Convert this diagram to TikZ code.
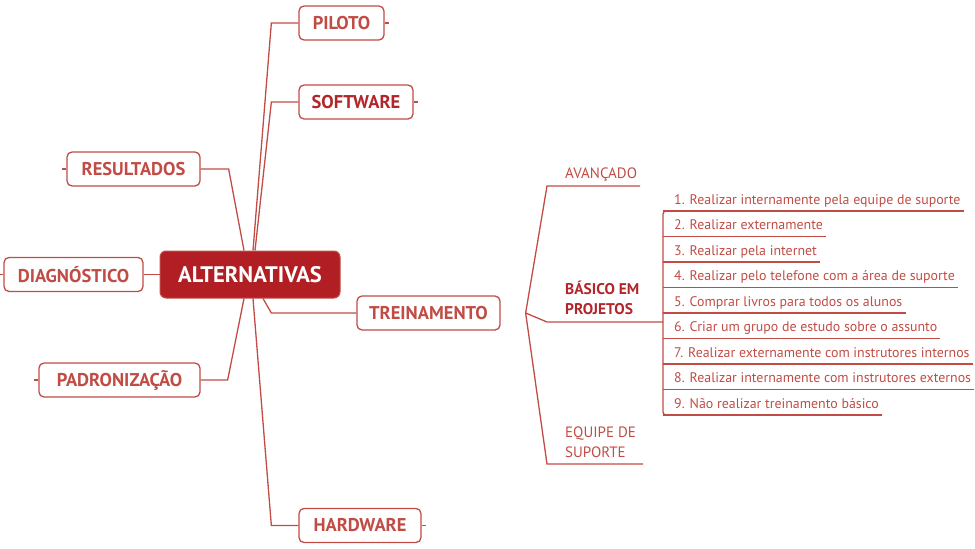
\documentclass[tikz,border=0pt]{standalone}
\usepackage{fontspec}
\setmainfont{PT Sans}
\usetikzlibrary{calc}

\definecolor{mapred}{HTML}{C14C45}
\definecolor{rootred}{HTML}{B11F24}
\definecolor{deepred}{HTML}{B2262B}

\begin{document}
\begin{tikzpicture}[x=1pt,y=-1pt,
	branch/.style={draw=mapred, line width=1.3pt},
	box/.style={draw=mapred, line width=1.3pt, rounded corners=5pt, fill=white, text=mapred, inner sep=0pt, minimum height=34pt, font=\fontsize{18.5}{20}\selectfont\bfseries},
	root/.style={draw=mapred, line width=1pt, rounded corners=6pt, fill=rootred, text=white, inner sep=0pt, minimum width=180pt, minimum height=47pt, font=\fontsize{22.5}{24}\selectfont\bfseries},
	topic/.style={text=mapred, anchor=base west, inner sep=0pt, align=left, font=\fontsize{15}{20}\selectfont},
	item/.style={text=mapred, anchor=base west, inner sep=0pt, font=\fontsize{13.9}{15}\selectfont},
]
\useasboundingbox (0,0) rectangle (975,549);

\node[root] (alt) at (250,274.5) {ALTERNATIVAS};

\node[box, minimum width=85pt] (piloto) at (341.5,23) {PILOTO};
\node[box, minimum width=114pt, text=deepred] (software) at (356,102) {SOFTWARE};
\node[box, minimum width=133pt] (resultados) at (133.5,169) {RESULTADOS};
\node[box, minimum width=139pt] (diag) at (73.5,274.5) {DIAGNÓSTICO};
\node[box, minimum width=161pt] (padr) at (119.5,380) {PADRONIZAÇÃO};
\node[box, minimum width=143pt] (trein) at (428.5,313) {TREINAMENTO};
\node[box, minimum width=122pt] (hard) at (360,525.5) {HARDWARE};

% ligacoes do no central
\draw[branch] (piloto.west) -- ++(-27,0) -- ($(alt.north)+(3,0)$);
\draw[branch] (software.west) -- ++(-27,0) -- ($(alt.north)+(5,0)$);
\draw[branch] (resultados.east) -- ++(28,0) -- ($(alt.north)+(-6,0)$);
\draw[branch] (diag.east) -- (alt.west);
\draw[branch] (padr.east) -- ++(27,0) -- ($(alt.south)+(-6,0)$);
\draw[branch] (hard.west) -- ++(-27,0) -- ($(alt.south)+(3,0)$);
\draw[branch] (trein.west) -- ++(-85,0) -- ($(alt.south)+(13,0)$);

% marcas de ramos recolhidos
\draw[branch] (piloto.east) -- ++(4,0);
\draw[branch] (software.east) -- ++(4,0);
\draw[branch] (hard.east) -- ++(4,0);
\draw[branch] (resultados.west) -- ++(-4,0);
\draw[branch] (diag.west) -- ++(-3,0);
\draw[branch] (padr.west) -- ++(-4,0);

% treinamento
\coordinate (fork) at ($(trein.east)+(25,0)$);
\node[topic] (avanc) at (565,178) {AVANÇADO};
\node[topic, text=deepred, font=\fontsize{15.5}{20}\selectfont\bfseries] (basico) at (565,314) {BÁSICO EM\\PROJETOS};
\node[topic] (equipe) at (565,457) {EQUIPE DE\\SUPORTE};

\coordinate (avL) at (547,186);
\coordinate (avR) at ($(avanc.base east)+(3,8)$);
\coordinate (bsL) at (547,322);
\coordinate (bar) at (663,322);
\coordinate (eqL) at (547,464);
\coordinate (eqR) at ($(equipe.south east)+(7,0)$);
\draw[branch] (fork) -- (avL) -- (avR);
\draw[branch] (fork) -- (bsL) -- (bar);
\draw[branch] (fork) -- (eqL) -- (eqL -| eqR);

\foreach \t [count=\n] in {
	{1. Realizar internamente pela equipe de suporte},
	{2. Realizar externamente},
	{3. Realizar pela internet},
	{4. Realizar pelo telefone com a área de suporte},
	{5. Comprar livros para todos os alunos},
	{6. Criar um grupo de estudo sobre o assunto},
	{7. Realizar externamente com instrutores internos},
	{8. Realizar internamente com instrutores externos},
	{9. Não realizar treinamento básico}}{
	\pgfmathsetmacro\y{178.5+25.5*\n}
	\node[item] (i\n) at (674,\y) {\t};
	\coordinate (e\n) at ($(i\n.base east)+(3,7)$);
	\draw[branch] (bar |- e\n) -- (e\n);
}
\draw[branch, rounded corners=3pt] (e1) -- (bar |- e1) -- (bar |- e9) -- (e9);
\end{tikzpicture}
\end{document}
